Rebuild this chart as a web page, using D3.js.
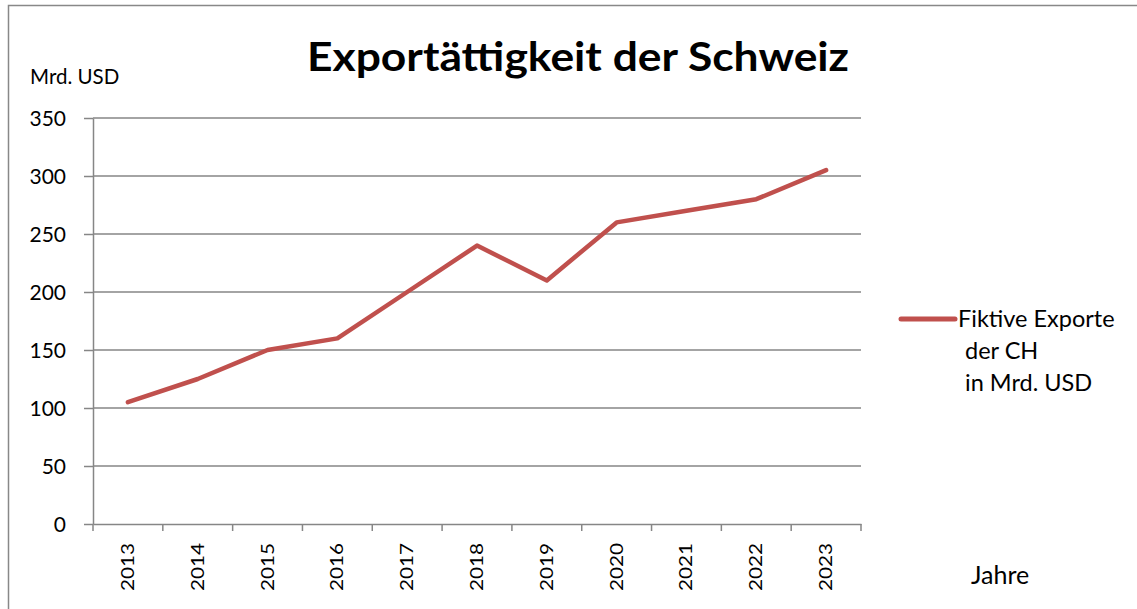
<!DOCTYPE html>
<html>
<head>
  <meta charset="utf-8">
  <title>Exportättigkeit der Schweiz</title>
  <script src="https://d3js.org/d3.v7.min.js"></script>
  <style>
    body { margin: 0; background: #fff; }
    svg text { font-family: Lato, "Open Sans", sans-serif; fill: #000; }
  </style>
</head>
<body>
<svg id="chart" width="1137" height="609"></svg>
<script>
// data
const years = ["2013", "2014", "2015", "2016", "2017", "2018", "2019", "2020", "2021", "2022", "2023"];
const exportValues = [105, 125, 150, 160, 200, 240, 210, 260, 270, 280, 305];
const yTicks = [0, 50, 100, 150, 200, 250, 300, 350];
const legendLines = ["Fiktive Exporte", " der CH", " in Mrd. USD"];

const svg = d3.select("#chart");

// plot area
const plotLeft = 93, plotRight = 861, plotTop = 118, plotBottom = 524;

// outer frame (right and bottom run off the picture)
svg.append("rect")
    .attr("x", 8.5).attr("y", 5.5)
    .attr("width", 1200).attr("height", 700)
    .attr("fill", "none")
    .attr("stroke", "#888")
    .attr("stroke-width", 1.5);

const x = d3.scaleBand().domain(years).range([plotLeft, plotRight]);
const y = d3.scaleLinear().domain([0, 350]).range([plotBottom, plotTop]);

// grid lines
svg.append("g")
    .selectAll("line")
    .data(yTicks.filter(d => d > 0))
    .join("line")
    .attr("x1", plotLeft).attr("x2", plotRight)
    .attr("y1", d => y(d)).attr("y2", d => y(d))
    .attr("stroke", "#868686")
    .attr("stroke-width", 1.5);

// y axis
const yAxis = svg.append("g")
    .attr("transform", `translate(${plotLeft},0)`)
    .call(d3.axisLeft(y).tickValues(yTicks).tickSize(9).tickPadding(18).tickSizeOuter(0));
yAxis.select(".domain").attr("stroke", "#868686").attr("stroke-width", 1.5);
yAxis.selectAll(".tick line").attr("stroke", "#868686").attr("stroke-width", 1.5);
yAxis.selectAll(".tick text")
    .attr("font-family", "Lato, sans-serif")
    .attr("font-size", 21)
    .attr("dy", "0.36em");

// x axis
const xAxis = svg.append("g")
    .attr("transform", `translate(0,${plotBottom})`)
    .call(d3.axisBottom(x).tickSize(0).tickSizeOuter(0));
xAxis.select(".domain").attr("stroke", "#868686").attr("stroke-width", 1.5);
xAxis.selectAll(".tick line").remove();
// ticks at band edges
xAxis.selectAll(".edge")
    .data(years.concat(["end"]))
    .join("line")
    .attr("class", "edge")
    .attr("x1", (d, i) => plotLeft + i * x.step())
    .attr("x2", (d, i) => plotLeft + i * x.step())
    .attr("y1", 0).attr("y2", 7)
    .attr("stroke", "#868686")
    .attr("stroke-width", 1.5);
xAxis.selectAll(".tick text")
    .attr("font-family", "'Liberation Sans', Arial, sans-serif")
    .attr("font-size", 17)
    .attr("text-anchor", "end")
    .attr("y", 0)
    .attr("dy", 0)
    .attr("transform", "translate(6,19) rotate(-90) scale(1.22,1)");

// the line
const line = d3.line()
    .x((d, i) => x(years[i]) + x.bandwidth() / 2)
    .y(d => y(d));

svg.append("path")
    .datum(exportValues)
    .attr("d", line)
    .attr("fill", "none")
    .attr("stroke", "#C0504D")
    .attr("stroke-width", 4.5)
    .attr("stroke-linejoin", "round")
    .attr("stroke-linecap", "round");

// title
svg.append("text")
    .attr("x", 578).attr("y", 71)
    .attr("text-anchor", "middle")
    .attr("font-size", 40)
    .attr("font-weight", "bold")
    .attr("textLength", 542)
    .attr("lengthAdjust", "spacingAndGlyphs")
    .text("Exportättigkeit der Schweiz");

// unit label
svg.append("text")
    .attr("x", 30).attr("y", 84)
    .attr("font-size", 20.5)
    .text("Mrd. USD");

// axis title
svg.append("text")
    .attr("x", 971).attr("y", 584)
    .attr("font-size", 25)
    .text("Jahre");

// legend
svg.append("line")
    .attr("x1", 901).attr("x2", 955)
    .attr("y1", 319).attr("y2", 319)
    .attr("stroke", "#C0504D")
    .attr("stroke-width", 5)
    .attr("stroke-linecap", "round");

svg.append("g")
    .selectAll("text")
    .data(legendLines)
    .join("text")
    .attr("x", (d, i) => i === 0 ? 958 : 959)
    .attr("y", (d, i) => 327 + i * 32)
    .attr("font-size", 23.5)
    .attr("xml:space", "preserve")
    .style("white-space", "pre")
    .text(d => d);
</script>
</body>
</html>
